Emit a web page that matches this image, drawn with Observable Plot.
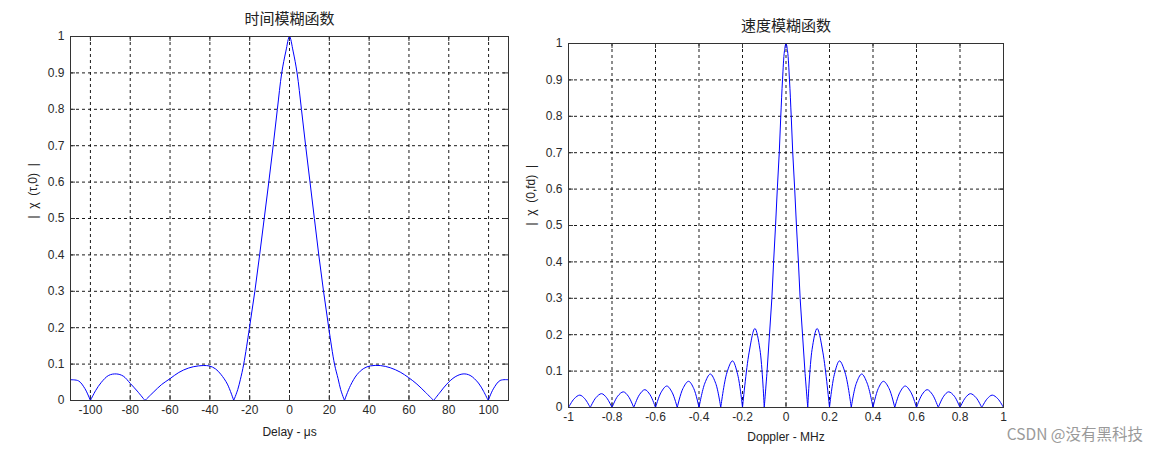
<!DOCTYPE html>
<html><head><meta charset="utf-8">
<script src="https://cdn.jsdelivr.net/npm/d3@7"></script>
<script src="https://cdn.jsdelivr.net/npm/@observablehq/plot@0.6"></script>
<style>
body{margin:0;background:#fff;width:1157px;height:451px;position:relative;overflow:hidden;font-family:"Liberation Sans",Arial,sans-serif}
#left{position:absolute;left:0;top:0}
#right{position:absolute;left:520px;top:0}
#wm{position:absolute;right:14px;top:426px;font-size:15.5px;line-height:14px;color:#9a9a9a;font-family:"Noto Sans CJK SC",sans-serif;white-space:nowrap}
</style></head><body>
<div id="left"></div><div id="right"></div><div id="wm">CSDN @没有黑科技</div>
<script>
// ---- Left: time ambiguity function (delay cut) ----
const delayTitle = "时间模糊函数";
const delayXLabel = "Delay - μs";
const delayYLabel = "|\u00a0\u00a0χ\u00a0\u00a0(τ,0)\u00a0\u00a0|";
const delayDomain = [-110, 110];
const delayTicks = [-100, -80, -60, -40, -20, 0, 20, 40, 60, 80, 100];
const delayX = [-110,-106,-102.8,-100,
  -97.4,-94.5,-90.8,-87,-83.5,-80,-76.5,-72.6,
  -68.5,-64.2,-60,-55.6,-50.8,-45.8,-40.4,-37.2,-34.5,-31.2,-28,
  -26,-24.7,-23,-20.1,-17.4,-15,-12.7,-10.4,-8.2,-6.1,-3.9,-1.8,0,1.8,3.8,6,8.1,10.3,12.5,14.7,17.1,19.7,22.6,24.4,25.7,27.6,
  30.6,33.9,37.3,40.6,45.6,50.6,55.6,59.8,64,68.2,72.4,
  75.7,79,83.2,87.2,90.7,94.9,97.5,99.8,
  102.4,105.8,110];
const delayY = [0.057,0.054,0.033,0,
  0.027,0.05,0.069,0.073,0.067,0.047,0.026,0,
  0.022,0.044,0.06,0.077,0.089,0.095,0.095,0.087,0.072,0.045,0,
  0.03,0.057,0.1,0.2,0.3,0.4,0.5,0.6,0.7,0.8,0.9,0.96,1,0.96,0.9,0.8,0.7,0.6,0.5,0.4,0.3,0.2,0.1,0.06,0.03,0,
  0.041,0.071,0.088,0.095,0.096,0.09,0.078,0.063,0.045,0.023,0,
  0.023,0.045,0.065,0.073,0.069,0.048,0.025,0,
  0.032,0.055,0.057];

// ---- Right: velocity ambiguity function (Doppler cut) ----
const dopTitle = "速度模糊函数";
const dopXLabel = "Doppler - MHz";
const dopYLabel = "|\u00a0\u00a0χ\u00a0\u00a0(0,fd)\u00a0\u00a0|";
const dopDomain = [-1, 1];
const dopTicks = [-1, -0.8, -0.6, -0.4, -0.2, 0, 0.2, 0.4, 0.6, 0.8, 1];
const dopX = [-1,-0.974,-0.948,-0.925,-0.9,
  -0.874,-0.848,-0.825,-0.8,
  -0.774,-0.748,-0.725,-0.7,
  -0.674,-0.649,-0.625,-0.6,
  -0.574,-0.548,-0.524,-0.5,
  -0.474,-0.448,-0.424,-0.4,
  -0.373,-0.348,-0.323,-0.3,
  -0.272,-0.246,-0.222,-0.2,
  -0.17,-0.143,-0.12,-0.1,
  -0.087,-0.076,-0.065,-0.057,-0.048,-0.04,-0.031,-0.024,-0.016,-0.007,0,0.007,0.016,0.024,0.031,0.04,0.048,0.057,0.065,0.076,0.087,0.1,
  0.12,0.143,0.17,0.2,
  0.222,0.246,0.272,0.3,
  0.323,0.348,0.373,0.4,
  0.424,0.448,0.474,0.5,
  0.524,0.548,0.574,0.6,
  0.625,0.649,0.674,0.7,
  0.725,0.748,0.774,0.8,
  0.825,0.848,0.874,0.9,
  0.925,0.948,0.974,1];
const dopY = [0,0.024,0.034,0.024,0,
  0.027,0.038,0.027,0,
  0.031,0.043,0.031,0,
  0.035,0.049,0.035,0,
  0.042,0.059,0.042,0,
  0.052,0.072,0.052,0,
  0.067,0.092,0.066,0,
  0.095,0.128,0.09,0,
  0.15,0.217,0.16,0,
  0.1,0.2,0.3,0.4,0.5,0.6,0.7,0.8,0.9,0.98,1,0.98,0.9,0.8,0.7,0.6,0.5,0.4,0.3,0.2,0.1,0,
  0.16,0.217,0.15,0,
  0.09,0.128,0.095,0,
  0.066,0.092,0.067,0,
  0.052,0.072,0.052,0,
  0.042,0.059,0.042,0,
  0.035,0.049,0.035,0,
  0.031,0.043,0.031,0,
  0.027,0.038,0.027,0,
  0.024,0.034,0.024,0];

const yTicks = [0, 0.1, 0.2, 0.3, 0.4, 0.5, 0.6, 0.7, 0.8, 0.9, 1];

// split the trace into lobes at its zeros so each zero stays a sharp notch
function toSegments(xs, ys) {
  const out = []; let seg = 0;
  xs.forEach((x, i) => {
    out.push({x, y: ys[i], seg});
    if (ys[i] === 0 && i > 0 && i < xs.length - 1) { seg++; out.push({x, y: ys[i], seg}); }
  });
  return out;
}
const fmt = d => String(+d.toFixed(2));

function chart({data, domain, ticks, title, xLabel, yLabel, width, height, ml, mr, mt, mb, xLabelDy}) {
  const W = width - ml - mr, H = height - mt - mb;
  const inner = ticks.filter(t => t > domain[0] && t < domain[1]);
  const yInner = yTicks.filter(t => t > 0 && t < 1);
  const grid = {stroke: "#000", strokeOpacity: 0.9, strokeWidth: 1, strokeDasharray: "3,3"};
  return Plot.plot({
    width, height, marginLeft: ml, marginRight: mr, marginTop: mt, marginBottom: mb,
    style: {fontFamily: "'Liberation Sans', Arial, sans-serif", fontSize: "12px", color: "#2a2a2a", background: "white"},
    x: {domain, label: null},
    y: {domain: [0, 1], label: null},
    marks: [
      Plot.gridX(inner, {x: d => d, ...grid}),
      Plot.gridY(yInner, {y: d => d, ...grid}),
      Plot.tickX(inner, {x: d => d, insetTop: H - 5, stroke: "#333"}),
      Plot.tickX(inner, {x: d => d, insetBottom: H - 5, stroke: "#333"}),
      Plot.tickY(yInner, {y: d => d, insetRight: W - 5, stroke: "#333"}),
      Plot.tickY(yInner, {y: d => d, insetLeft: W - 5, stroke: "#333"}),
      Plot.line(data, {x: "x", y: "y", z: "seg", stroke: "#0000ff", strokeWidth: 1, curve: "catmull-rom"}),
      Plot.frame({stroke: "#333"}),
      Plot.axisX(ticks, {tickSize: 0, tickPadding: 5, tickFormat: fmt, label: null, fontSize: 12}),
      Plot.axisY(yTicks, {tickSize: 0, tickPadding: 6, tickFormat: fmt, label: null, fontSize: 12}),
      Plot.text([title], {frameAnchor: "top", dy: -17, lineAnchor: "middle", fontSize: 15, fontFamily: "'Noto Sans CJK SC', sans-serif", fill: "#222"}),
      Plot.text([xLabel], {frameAnchor: "bottom", dy: xLabelDy, lineAnchor: "middle", fontSize: 12, fill: "#222"}),
      Plot.text([yLabel], {frameAnchor: "left", dx: -37, rotate: -90, lineAnchor: "middle", fontSize: 12, fill: "#222"})
    ]
  });
}

document.getElementById("left").append(chart({
  data: toSegments(delayX, delayY), domain: delayDomain, ticks: delayTicks,
  title: delayTitle, xLabel: delayXLabel, yLabel: delayYLabel,
  width: 520, height: 451, ml: 70, mr: 12, mt: 36, mb: 51, xLabelDy: 32
}));
document.getElementById("right").append(chart({
  data: toSegments(dopX, dopY), domain: dopDomain, ticks: dopTicks,
  title: dopTitle, xLabel: dopXLabel, yLabel: dopYLabel,
  width: 637, height: 451, ml: 48, mr: 154, mt: 43, mb: 44, xLabelDy: 30
}));
</script>
</body></html>
